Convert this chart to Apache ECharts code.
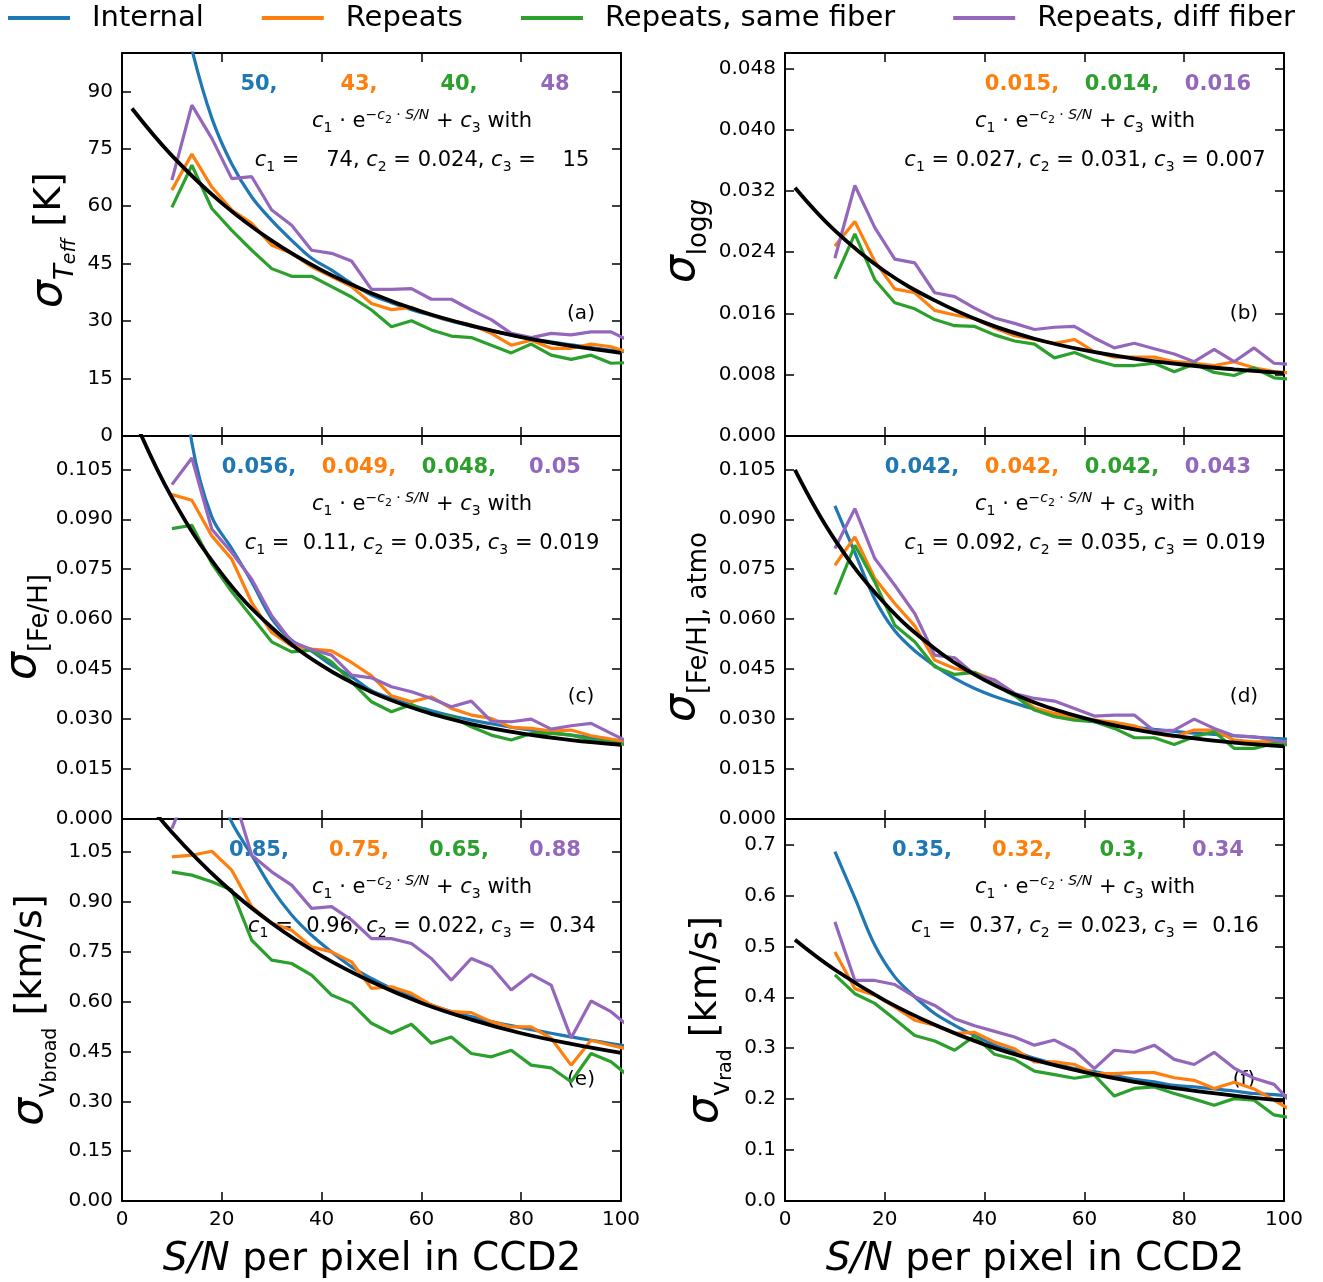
<!DOCTYPE html>
<html>
<head>
<meta charset="utf-8">
<script src="https://cdn.jsdelivr.net/npm/echarts@6/dist/echarts.min.js"></script>
<style>
html, body { margin: 0; padding: 0; background: #fff; }
#main { width: 1323px; height: 1282px; }
</style>
</head>
<body>
<div id="main"></div>
<script>
// S/N bins of the measured curves and of the fitted curve
var snr = [10, 14, 18, 22, 26, 30, 34, 38, 42, 46, 50, 54, 58, 62, 66, 70, 74, 78, 82, 86, 90, 94, 98, 102];
var fitSnr = [2, 10, 20, 30, 40, 50, 60, 70, 80, 90, 100];

// (a) Teff
var tEffInternal = [125, 101, 83, 71, 62.4, 56.3, 51.1, 46.4, 43.3, 39.8, 36.8, 34.8, 33.0, 31.5, 30.0, 28.7, 27.5, 26.4, 25.4, 24.6, 23.8, 23.1, 22.4, 21.8];
var tEffRepeats = [64.2, 73.6, 65.0, 59.0, 55.5, 49.8, 47.7, 44.2, 41.6, 39.0, 34.6, 33.0, 33.6, 31.6, 30.1, 29.0, 26.8, 23.7, 25.0, 22.9, 22.9, 24.0, 23.3, 21.6];
var tEffSame = [59.7, 70.7, 59.4, 53.7, 48.5, 43.7, 41.7, 41.7, 39.0, 36.3, 32.9, 28.5, 30.1, 27.7, 26.1, 25.7, 23.7, 21.7, 24.0, 21.1, 20.0, 21.1, 19.0, 19.2];
var tEffDiff = [66.8, 86.4, 77.7, 67.2, 67.7, 59.0, 55.0, 48.5, 47.7, 45.7, 38.3, 38.3, 38.5, 35.7, 35.7, 32.9, 30.4, 26.8, 25.7, 26.8, 26.4, 27.2, 27.2, 24.6];
var tEffFit = [85.5, 73.2, 60.8, 51.0, 43.3, 37.3, 32.5, 28.8, 25.8, 23.5, 21.7];

// (b) log g
var loggRepeats = [0.0248, 0.0280, 0.0228, 0.0192, 0.0187, 0.0164, 0.0158, 0.0153, 0.0141, 0.0131, 0.0126, 0.0121, 0.0126, 0.0110, 0.0103, 0.0103, 0.0103, 0.0097, 0.0095, 0.0092, 0.0097, 0.0089, 0.0084, 0.0082];
var loggSame = [0.0205, 0.0264, 0.0204, 0.0174, 0.0166, 0.0152, 0.0144, 0.0143, 0.0132, 0.0124, 0.0120, 0.0102, 0.0109, 0.0099, 0.0092, 0.0092, 0.0095, 0.0084, 0.0094, 0.0083, 0.0079, 0.0089, 0.0076, 0.0074];
var loggDiff = [0.0232, 0.0327, 0.0272, 0.0231, 0.0226, 0.0187, 0.0182, 0.0167, 0.0154, 0.0147, 0.0139, 0.0142, 0.0143, 0.0128, 0.0115, 0.0121, 0.0114, 0.0107, 0.0097, 0.0113, 0.0097, 0.0115, 0.0095, 0.0093];
var loggFit = [0.0324, 0.0268, 0.0215, 0.0177, 0.0148, 0.0127, 0.0112, 0.0101, 0.0093, 0.0087, 0.0082];

// (c) [Fe/H]
var fehInternal = [0.160, 0.113, 0.0907, 0.0812, 0.0712, 0.0602, 0.0537, 0.0504, 0.0462, 0.0427, 0.0385, 0.0362, 0.0342, 0.0325, 0.0310, 0.0297, 0.0286, 0.0276, 0.0267, 0.0259, 0.0252, 0.0245, 0.0238, 0.0232];
var fehRepeats = [0.0974, 0.0957, 0.0850, 0.0780, 0.0650, 0.0560, 0.0520, 0.0510, 0.0505, 0.0470, 0.0430, 0.0370, 0.0352, 0.0367, 0.0332, 0.0312, 0.0302, 0.0275, 0.0272, 0.0264, 0.0267, 0.0250, 0.0240, 0.0228];
var fehSame = [0.0872, 0.0882, 0.0767, 0.0682, 0.0607, 0.0532, 0.0502, 0.0507, 0.0472, 0.0412, 0.0352, 0.0322, 0.0344, 0.0314, 0.0307, 0.0277, 0.0252, 0.0237, 0.0257, 0.0257, 0.0252, 0.0237, 0.0230, 0.0221];
var fehDiff = [0.1004, 0.1084, 0.0870, 0.0800, 0.0720, 0.0610, 0.0532, 0.0509, 0.0492, 0.0432, 0.0424, 0.0397, 0.0382, 0.0362, 0.0337, 0.0354, 0.0294, 0.0292, 0.0300, 0.0270, 0.0280, 0.0287, 0.0257, 0.0227];
var fehFit = [0.1216, 0.0965, 0.0736, 0.0575, 0.0461, 0.0381, 0.0325, 0.0285, 0.0257, 0.0237, 0.0223];

// (d) [Fe/H], atmo
var atmoInternal = [0.094, 0.080, 0.066, 0.0565, 0.0505, 0.046, 0.0422, 0.0392, 0.0368, 0.0348, 0.0330, 0.0315, 0.0302, 0.0292, 0.0283, 0.0276, 0.0269, 0.0263, 0.0258, 0.0254, 0.0250, 0.0246, 0.0242, 0.0239];
var atmoRepeats = [0.0762, 0.0847, 0.0722, 0.0647, 0.0580, 0.0477, 0.0452, 0.0440, 0.0417, 0.0377, 0.0334, 0.0317, 0.0302, 0.0297, 0.0290, 0.0280, 0.0257, 0.0247, 0.0267, 0.0267, 0.0237, 0.0232, 0.0232, 0.0218];
var atmoSame = [0.0674, 0.0822, 0.0712, 0.0582, 0.0532, 0.0457, 0.0434, 0.0440, 0.0404, 0.0370, 0.0327, 0.0307, 0.0297, 0.0292, 0.0272, 0.0244, 0.0244, 0.0224, 0.0247, 0.0262, 0.0212, 0.0212, 0.0227, 0.0221];
var atmoDiff = [0.0812, 0.0932, 0.0782, 0.0702, 0.0617, 0.0492, 0.0484, 0.0434, 0.0417, 0.0377, 0.0362, 0.0354, 0.0332, 0.0309, 0.0312, 0.0312, 0.0264, 0.0267, 0.0300, 0.0272, 0.0250, 0.0247, 0.0237, 0.0227];
var atmoFit = [0.1048, 0.0838, 0.0647, 0.0512, 0.0417, 0.0350, 0.0303, 0.0269, 0.0246, 0.0229, 0.0218];

// (e) v broad
var broadInternal = [1.70, 1.45, 1.28, 1.14, 1.041, 0.941, 0.861, 0.800, 0.750, 0.705, 0.670, 0.640, 0.615, 0.590, 0.570, 0.555, 0.540, 0.528, 0.516, 0.505, 0.494, 0.484, 0.474, 0.464];
var broadRepeats = [1.036, 1.041, 1.053, 0.996, 0.886, 0.836, 0.815, 0.765, 0.750, 0.720, 0.640, 0.645, 0.625, 0.590, 0.570, 0.567, 0.540, 0.524, 0.524, 0.490, 0.409, 0.484, 0.469, 0.455];
var broadSame = [0.991, 0.981, 0.961, 0.936, 0.785, 0.725, 0.715, 0.680, 0.620, 0.595, 0.535, 0.505, 0.532, 0.475, 0.494, 0.444, 0.434, 0.454, 0.409, 0.401, 0.359, 0.444, 0.419, 0.370];
var broadDiff = [1.121, 1.27, 1.30, 1.24, 1.041, 0.991, 0.951, 0.881, 0.886, 0.846, 0.790, 0.790, 0.775, 0.730, 0.665, 0.730, 0.705, 0.635, 0.682, 0.650, 0.491, 0.602, 0.570, 0.520];
var broadFit = [1.259, 1.110, 0.958, 0.836, 0.738, 0.660, 0.596, 0.546, 0.505, 0.473, 0.446];

// (f) v rad
var radInternal = [0.686, 0.595, 0.502, 0.440, 0.401, 0.368, 0.345, 0.325, 0.306, 0.293, 0.280, 0.270, 0.260, 0.254, 0.246, 0.239, 0.234, 0.227, 0.224, 0.220, 0.216, 0.211, 0.209, 0.205];
var radRepeats = [0.489, 0.417, 0.404, 0.381, 0.355, 0.345, 0.329, 0.331, 0.312, 0.299, 0.273, 0.273, 0.268, 0.250, 0.250, 0.252, 0.252, 0.242, 0.237, 0.221, 0.233, 0.220, 0.198, 0.175];
var radSame = [0.444, 0.407, 0.388, 0.357, 0.325, 0.314, 0.296, 0.324, 0.288, 0.278, 0.255, 0.248, 0.241, 0.247, 0.206, 0.221, 0.224, 0.211, 0.200, 0.188, 0.201, 0.198, 0.169, 0.162];
var radDiff = [0.548, 0.433, 0.433, 0.425, 0.401, 0.384, 0.358, 0.344, 0.333, 0.322, 0.306, 0.316, 0.296, 0.260, 0.296, 0.292, 0.306, 0.278, 0.268, 0.292, 0.261, 0.241, 0.229, 0.188];
var radFit = [0.513, 0.454, 0.394, 0.346, 0.307, 0.277, 0.253, 0.234, 0.219, 0.207, 0.197];

// text shown in each panel
var statTeff = ['50,', '43,', '40,', '48'];
var statLogg = ['', '0.015,', '0.014,', '0.016'];
var statFeh = ['0.056,', '0.049,', '0.048,', '0.05'];
var statAtmo = ['0.042,', '0.042,', '0.042,', '0.043'];
var statBroad = ['0.85,', '0.75,', '0.65,', '0.88'];
var statRad = ['0.35,', '0.32,', '0.3,', '0.34'];

var names = ['Internal', 'Repeats', 'Repeats, same fiber', 'Repeats, diff fiber'];
var colors = ['#1f77b4', '#ff7f0e', '#2ca02c', '#9467bd'];
var FONT = 'DejaVu Sans';

var colLeft = [122, 785];
var rowTop = [53, 436, 819];
var rowH = [383, 383, 382];
var plotW = 499;

var panels = [
    { tag: '(a)', col: 0, row: 0, max: 100, step: 15, dec: 0,
      lines: [tEffInternal, tEffRepeats, tEffSame, tEffDiff], fit: tEffFit, stats: statTeff,
      coef: ['   74', '0.024', '   15'],
      title: '{s|σ}{sbi|T}{ssbi|eff}{n| [K]}', tx: 50, ty: 240 },
    { tag: '(b)', col: 1, row: 0, max: 0.05, step: 0.008, dec: 3,
      lines: [null, loggRepeats, loggSame, loggDiff], fit: loggFit, stats: statLogg,
      coef: ['0.027', '0.031', '0.007'],
      title: '{s|σ}{sb|log}{sbi|g}', tx: 683, ty: 241 },
    { tag: '(c)', col: 0, row: 1, max: 0.115, step: 0.015, dec: 3,
      lines: [fehInternal, fehRepeats, fehSame, fehDiff], fit: fehFit, stats: statFeh,
      coef: [' 0.11', '0.035', '0.019'],
      title: '{s|σ}{sb|[Fe/H]}', tx: 24, ty: 627 },
    { tag: '(d)', col: 1, row: 1, max: 0.115, step: 0.015, dec: 3,
      lines: [atmoInternal, atmoRepeats, atmoSame, atmoDiff], fit: atmoFit, stats: statAtmo,
      coef: ['0.092', '0.035', '0.019'],
      title: '{s|σ}{sb|[Fe/H], atmo}', tx: 683, ty: 627 },
    { tag: '(e)', col: 0, row: 2, max: 1.15, step: 0.15, dec: 2,
      lines: [broadInternal, broadRepeats, broadSame, broadDiff], fit: broadFit, stats: statBroad,
      coef: [' 0.96', '0.022', ' 0.34'],
      title: '{s|σ}{sb|v}{ssb|broad}{n| [km/s]}', tx: 31, ty: 1010 },
    { tag: '(f)', col: 1, row: 2, max: 0.75, step: 0.1, dec: 1,
      lines: [radInternal, radRepeats, radSame, radDiff], fit: radFit, stats: statRad,
      coef: [' 0.37', '0.023', ' 0.16'],
      title: '{s|σ}{sb|v}{ssb|rad}{n| [km/s]}', tx: 706, ty: 1020 }
];

function mathRich(size, big, lh) {
    var sub = Math.round(size * 0.68);
    var ss = Math.round(size * 0.5);
    var lineH = Math.round(size * (lh || 1.55));
    var base = { fill: '#000', fontFamily: FONT };
    function mk(o) { return Object.assign({}, base, o); }
    return {
        n: mk({ fontSize: size, lineHeight: lineH, verticalAlign: 'middle' }),
        i: mk({ fontSize: size, fontStyle: 'italic', lineHeight: lineH, verticalAlign: 'middle' }),
        s: mk({ fontSize: big || size, fontStyle: 'italic', lineHeight: lineH, verticalAlign: 'middle' }),
        sb: mk({ fontSize: sub, verticalAlign: 'bottom', lineHeight: sub }),
        sbi: mk({ fontSize: sub, fontStyle: 'italic', verticalAlign: 'bottom', lineHeight: sub }),
        ssb: mk({ fontSize: ss, verticalAlign: 'bottom', lineHeight: ss, padding: [Math.round(size * 0.1), 0, 0, 0] }),
        ssbi: mk({ fontSize: ss, fontStyle: 'italic', verticalAlign: 'bottom', lineHeight: ss, padding: [Math.round(size * 0.1), 0, 0, 0] }),
        sp: mk({ fontSize: sub, verticalAlign: 'top', lineHeight: sub }),
        spi: mk({ fontSize: sub, fontStyle: 'italic', verticalAlign: 'top', lineHeight: sub }),
        sps: mk({ fontSize: ss, verticalAlign: 'top', lineHeight: ss, padding: [Math.round(size * 0.3), 0, 0, 0] })
    };
}

var noteRich = mathRich(21, null, 1.3);
var titleRich = mathRich(38, 44);
var formula = '{i|c}{sb|1}{n| · e}{sp|−}{spi|c}{sps|2}{sp| · }{spi|S/N}{n| + }{i|c}{sb|3}{n| with}';

var option = {
    animation: false,
    backgroundColor: '#fff',
    legend: {
        data: names,
        left: 8,
        top: 1,
        padding: 0,
        icon: 'rect',
        itemWidth: 62,
        itemHeight: 4,
        itemGap: 58,
        textStyle: { fontFamily: FONT, fontSize: 29, color: '#000', lineHeight: 34, padding: [0, 0, 0, 17] }
    },
    grid: [], xAxis: [], yAxis: [], series: [], graphic: []
};

function pairs(xs, ys) {
    return xs.map(function (x, j) { return [x, ys[j]]; });
}

var tickStyle = { show: true, inside: true, length: 9, lineStyle: { color: '#000', width: 1.5 } };
var lineStyleAxis = { show: true, onZero: false, lineStyle: { color: '#000', width: 2 } };

panels.forEach(function (p, i) {
    var left = colLeft[p.col], top = rowTop[p.row];
    option.grid.push({ left: left, top: top, width: plotW, height: rowH[p.row] });

    var xa = { type: 'value', gridIndex: i, min: 0, max: 100, interval: 20,
        axisLine: lineStyleAxis, axisTick: tickStyle, splitLine: { show: false } };
    option.xAxis.push(Object.assign({}, xa, { position: 'bottom',
        axisLabel: { show: p.row === 2, fontFamily: FONT, fontSize: 20, color: '#000', margin: 9 } }));
    option.xAxis.push(Object.assign({}, xa, { position: 'top', axisLabel: { show: false } }));

    var ya = { type: 'value', gridIndex: i, min: 0, max: p.max, interval: p.step,
        axisLine: lineStyleAxis, axisTick: tickStyle, splitLine: { show: false } };
    option.yAxis.push(Object.assign({}, ya, { position: 'left',
        axisLabel: { fontFamily: FONT, fontSize: 20, color: '#000', margin: 9, showMaxLabel: false,
            formatter: function (v) { return v.toFixed(p.dec); } } }));
    option.yAxis.push(Object.assign({}, ya, { position: 'right', axisLabel: { show: false } }));

    p.lines.forEach(function (ys, k) {
        if (!ys) return;
        option.series.push({
            type: 'line', name: names[k], xAxisIndex: 2 * i, yAxisIndex: 2 * i,
            data: pairs(snr, ys), symbol: 'none', clip: true,
            smooth: k === 0 ? 0.35 : false,
            lineStyle: { color: colors[k], width: 3.2 }, itemStyle: { color: colors[k] }, z: 3
        });
    });
    option.series.push({
        type: 'line', name: 'fit', xAxisIndex: 2 * i, yAxisIndex: 2 * i,
        data: pairs(fitSnr, p.fit), symbol: 'none', clip: true, smooth: 0.4,
        lineStyle: { color: '#000', width: 3.8 }, itemStyle: { color: '#000' }, z: 4
    });

    // summary values in the series colours
    p.stats.forEach(function (s, k) {
        if (!s) return;
        option.graphic.push({ type: 'text', x: left + (k < 3 ? 137 + 100 * k : 433), y: top + 32,
            style: { text: s, fill: colors[k], fontFamily: FONT, fontSize: 21, fontWeight: 'bold',
                align: 'center', verticalAlign: 'middle' } });
    });
    option.graphic.push({ type: 'text', x: left + 300, y: top + 69,
        style: { text: formula, rich: noteRich, align: 'center', verticalAlign: 'middle' } });
    var coefText = '{i|c}{sb|1}{n| = ' + p.coef[0] + ', }{i|c}{sb|2}{n| = ' + p.coef[1] +
        ', }{i|c}{sb|3}{n| = ' + p.coef[2] + '}';
    option.graphic.push({ type: 'text', x: left + 300, y: top + 108,
        style: { text: coefText, rich: noteRich, align: 'center', verticalAlign: 'middle' } });
    option.graphic.push({ type: 'text', x: left + 459, y: top + 261,
        style: { text: p.tag, fill: '#000', fontFamily: FONT, fontSize: 20, align: 'center', verticalAlign: 'middle' } });
    option.graphic.push({ type: 'text', x: p.tx, y: p.ty, rotation: Math.PI / 2,
        style: { text: p.title, rich: titleRich, align: 'center', verticalAlign: 'middle' } });
});

[372, 1035].forEach(function (cx) {
    option.graphic.push({ type: 'text', x: cx, y: 1260,
        style: { text: '{i|S/N}{n| per pixel in CCD2}', rich: mathRich(39), align: 'center', verticalAlign: 'middle' } });
});

var myChart = echarts.init(document.getElementById('main'));
myChart.setOption(option);
</script>
</body>
</html>
